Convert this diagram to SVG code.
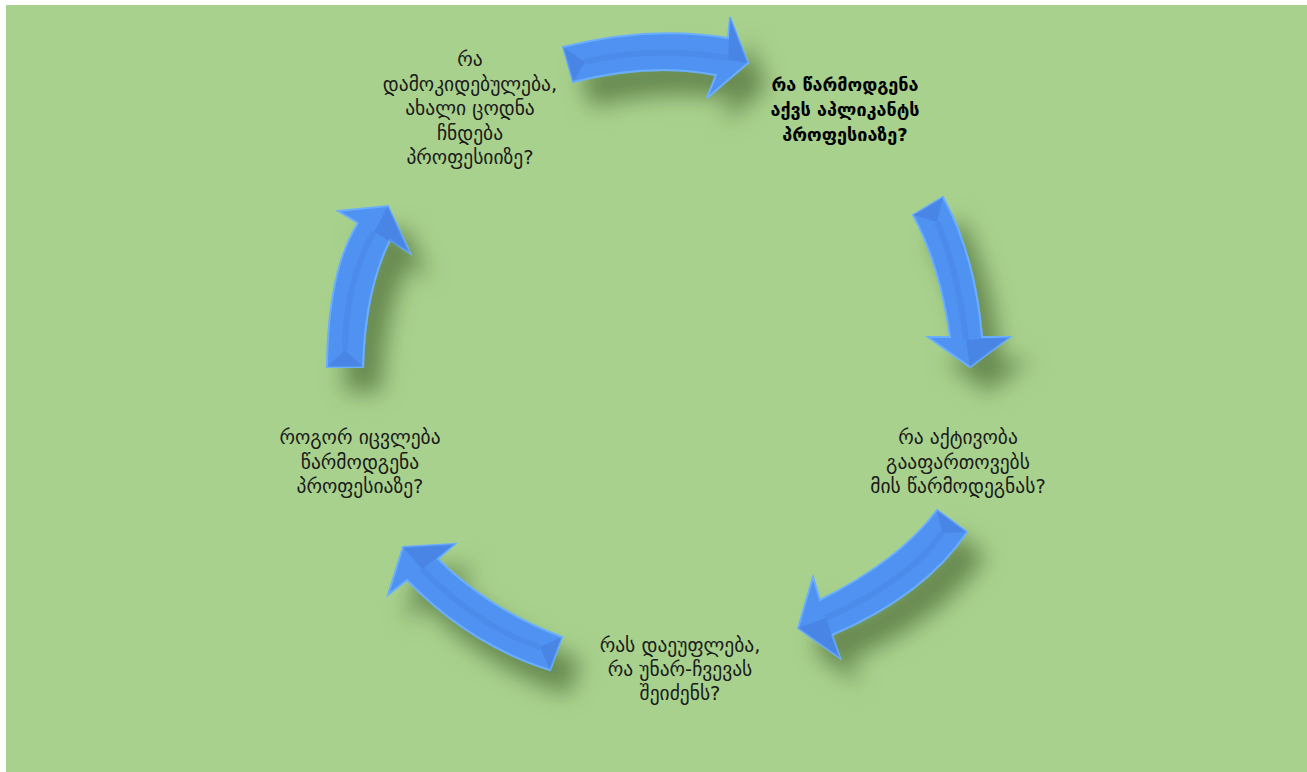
<svg xmlns="http://www.w3.org/2000/svg" width="1307" height="772" viewBox="0 0 1307 772">
<defs>
<filter id="sh" x="-60%" y="-60%" width="220%" height="220%">
<feDropShadow dx="18" dy="24" stdDeviation="11" flood-color="#3a5a28" flood-opacity="0.6"/>
</filter>
<style>
.arrow{fill:#5092f2;stroke:#6aaeff;stroke-width:2;stroke-linejoin:miter}
.bev{fill:#3e74cf;opacity:0.4}
.ridge{fill:none;stroke:#3f74cc;stroke-width:6;opacity:0.2}
.lbl{font-family:"DejaVu Sans",sans-serif;font-size:19.5px;fill:#1a1a1a;text-anchor:middle}
.b{font-size:18px;font-weight:bold;fill:#000}
</style>
</defs>
<rect x="0" y="0" width="1307" height="772" fill="#ffffff"/>
<rect x="6" y="5" width="1301" height="767" fill="#a9d18e"/>
<g id="connectors">
<g id="arrow1" filter="url(#sh)">
<path class="arrow" d="M563,47 Q650,25 728,38 L730,17 L748,63 L707,98 L716,75 Q650,62 573,82 Z"/>
<path class="bev" d="M563,47 L585,62 L573,82 Z"/>
<path class="bev" d="M730,17 L748,63 L728,60 Z"/>
<path class="ridge" d="M585,62 Q650,46 728,58"/>
</g>
<g id="arrow2" filter="url(#sh)">
<path class="arrow" d="M913,215 Q940,265 950,337 L928,337 L970,367 L1010,337 L982,337 Q975,255 943,197 Z"/>
<path class="bev" d="M913,215 L937,222 L943,197 Z"/>
<path class="bev" d="M970,367 L966,340 L1010,337 Z"/>
<path class="ridge" d="M937,222 Q958,270 966,340"/>
</g>
<g id="arrow3" filter="url(#sh)">
<path class="arrow" d="M937,510 Q900,560 820,600 L813,577 L798,628 L840,658 L832,635 Q925,595 967,532 Z"/>
<path class="bev" d="M937,510 L942,533 L967,532 Z"/>
<path class="bev" d="M798,628 L826,618 L840,658 Z"/>
<path class="ridge" d="M942,533 Q910,580 826,618"/>
</g>
<g id="arrow4" filter="url(#sh)">
<path class="arrow" d="M562,637 Q490,610 438,559 L455,544 L403,547 L388,595 L407,580 Q470,645 550,670 Z"/>
<path class="bev" d="M562,637 L540,647 L550,670 Z"/>
<path class="bev" d="M403,547 L422,569 L455,544 Z"/>
<path class="ridge" d="M540,647 Q480,628 422,569"/>
</g>
<g id="arrow5" filter="url(#sh)">
<path class="arrow" d="M327,367 Q328,270 358,223 L338,211 L388,206 L410,253 L390,240 Q365,290 363,367 Z"/>
<path class="bev" d="M327,367 L345,350 L363,367 Z"/>
<path class="bev" d="M388,206 L374,232 L410,253 Z"/>
<path class="ridge" d="M345,350 Q346,280 374,232"/>
</g>
</g>
<g id="node-top-left">
<text class="lbl" x="470" y="66">რა</text>
<text class="lbl" x="470" y="91">დამოკიდებულება,</text>
<text class="lbl" x="470" y="115">ახალი ცოდნა</text>
<text class="lbl" x="470" y="140">ჩნდება</text>
<text class="lbl" x="470" y="164">პროფესიიზე?</text>
</g>
<g id="node-top-right">
<text class="lbl b" x="845" y="91">რა წარმოდგენა</text>
<text class="lbl b" x="845" y="116">აქვს აპლიკანტს</text>
<text class="lbl b" x="845" y="141">პროფესიაზე?</text>
</g>
<g id="node-right">
<text class="lbl" x="958" y="444">რა აქტივობა</text>
<text class="lbl" x="958" y="469">გააფართოვებს</text>
<text class="lbl" x="958" y="493">მის წარმოდეგნას?</text>
</g>
<g id="node-bottom">
<text class="lbl" x="680" y="652">რას დაეუფლება,</text>
<text class="lbl" x="680" y="676">რა უნარ-ჩვევას</text>
<text class="lbl" x="680" y="700">შეიძენს?</text>
</g>
<g id="node-left">
<text class="lbl" x="360" y="444">როგორ იცვლება</text>
<text class="lbl" x="360" y="469">წარმოდგენა</text>
<text class="lbl" x="360" y="493">პროფესიაზე?</text>
</g>
</svg>
